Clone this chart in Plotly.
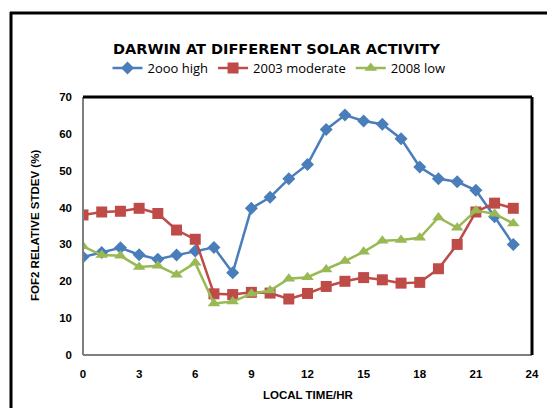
import plotly.graph_objects as go

hours = list(range(24))
high_2000 = [26.6, 27.8, 29.1, 27.2, 26.0, 27.1, 28.2, 29.2, 22.3, 39.8, 42.8, 47.8,
             51.7, 61.2, 65.1, 63.5, 62.6, 58.7, 51.0, 47.8, 47.0, 44.7, 37.5, 30.0]
moderate_2003 = [38.0, 38.8, 39.0, 39.8, 38.4, 33.9, 31.4, 16.6, 16.4, 17.0, 16.8, 15.2,
                 16.7, 18.6, 20.0, 21.0, 20.4, 19.5, 19.7, 23.4, 30.0, 38.8, 41.2, 39.8]
low_2008 = [29.5, 27.1, 26.9, 23.9, 24.2, 21.8, 25.0, 14.0, 14.5, 16.6, 17.5, 20.7,
            21.1, 23.2, 25.5, 28.0, 31.0, 31.2, 31.8, 37.3, 34.5, 39.2, 38.3, 35.7]
series_names = ["2ooo high", "2003 moderate", "2008 low"]
x_ticks = [0, 3, 6, 9, 12, 15, 18, 21, 24]
y_ticks = [0, 10, 20, 30, 40, 50, 60, 70]

colors = ["#4A7EBB", "#BE4B48", "#98B954"]
symbols = ["diamond", "square", "triangle-up"]
sizes = [10, 11, 11]

fig = go.Figure()
for name, vals, c, s, sz in zip(series_names, [high_2000, moderate_2003, low_2008], colors, symbols, sizes):
    fig.add_trace(go.Scatter(x=hours, y=vals, name=name, mode="lines+markers",
                             line=dict(color=c, width=2.5),
                             marker=dict(symbol=s, size=sz, color=c)))

# page body has an 8px margin; size the figure so it fits the window
OFF = 8
W, H = 547, 400
L, R, T, B = 83 - OFF, 532 - OFF, 97 - OFF, 355 - OFF
def px(x): return (x - OFF - L) / (R - L)   # screen x -> paper
def py(y): return (B - (y - OFF)) / (B - T)  # screen y -> paper

tickfont = dict(family="Liberation Sans, Arial", size=11.5, color="black", weight="bold")
fig.update_layout(
    width=W, height=H,
    margin=dict(l=L, r=W - R, t=T, b=H - B, autoexpand=False),
    paper_bgcolor="white", plot_bgcolor="white",
    xaxis=dict(range=[0, 24], tickvals=x_ticks, showgrid=False, zeroline=False, automargin=False,
               showline=False, ticks="", tickfont=tickfont, ticklabelstandoff=10),
    yaxis=dict(range=[0, 70], tickvals=y_ticks, showgrid=False, zeroline=False, automargin=False,
               showline=False, ticks="", tickfont=tickfont, ticklabelstandoff=10),
    showlegend=True,
    legend=dict(orientation="h", x=px(279), y=py(68), xanchor="center", yanchor="middle",
                font=dict(family="Open Sans, Liberation Sans", size=13, color="black"),
                bgcolor="rgba(0,0,0,0)"),
    annotations=[
        dict(text="DARWIN AT DIFFERENT SOLAR ACTIVITY", x=px(276), y=py(49), xref="paper", yref="paper",
             showarrow=False, xanchor="center", yanchor="middle",
             font=dict(family="DejaVu Sans", size=14.5, color="black", weight="bold")),
        dict(text="FOF2 RELATIVE STDEV (%)", x=px(35), y=py(226), xref="paper", yref="paper",
             showarrow=False, xanchor="center", yanchor="middle", textangle=-90,
             font=dict(family="Liberation Sans, Arial", size=11.5, color="black", weight="bold")),
        dict(text="LOCAL TIME/HR", x=px(308), y=py(395), xref="paper", yref="paper",
             showarrow=False, xanchor="center", yanchor="middle",
             font=dict(family="Liberation Sans, Arial", size=11.5, color="black", weight="bold")),
    ],
    shapes=[
        # outer frame
        dict(type="line", xref="paper", yref="paper", x0=px(11), x1=px(11), y0=py(12), y1=py(430),
             line=dict(color="black", width=3)),
        dict(type="line", xref="paper", yref="paper", x0=px(10), x1=px(570), y0=py(13), y1=py(13),
             line=dict(color="black", width=3)),
        # plot area border
        dict(type="line", xref="paper", yref="paper", x0=0, x1=0, y0=0, y1=1,
             line=dict(color="#7f7f7f", width=2)),
        dict(type="line", xref="paper", yref="paper", x0=0, x1=1, y0=0, y1=0,
             line=dict(color="#7f7f7f", width=2)),
        dict(type="line", xref="paper", yref="paper", x0=0, x1=1, y0=1, y1=1,
             line=dict(color="black", width=3)),
        dict(type="line", xref="paper", yref="paper", x0=1, x1=1, y0=0, y1=1,
             line=dict(color="black", width=3)),
    ],
)
fig.write_html("out.html")
